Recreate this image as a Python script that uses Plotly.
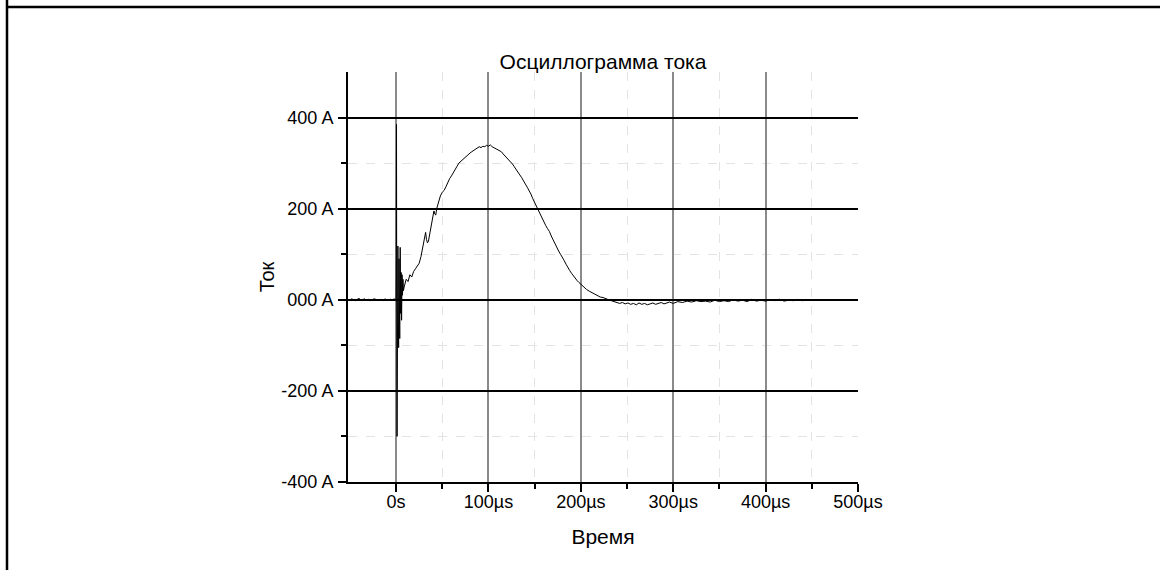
import plotly.graph_objects as go

# time in microseconds
t_base = [-52, -50, -48, -46, -44, -42, -40, -38, -36, -34, -32, -30, -28, -26, -24, -22, -20, -18, -16, -14, -12, -10, -8, -6, -4, -2, 0]
v_base = [1, -1, 2, 0, -2, 1, 3, -1, 0, 2, -1, 1, -2, 0, 2, 1, -1, 0, 1, -2, 2, 0, -1, 1, 0, 2, -1]

t_spike = [0.2, 0.5, 0.8, 1.1, 1.4, 1.7, 2.0, 2.4, 2.8, 3.2, 3.6, 4.0, 4.5, 5.0, 5.5, 6.0, 6.5, 7.0, 7.5, 8.0, 9.0, 10.0]
v_spike = [60, 385, -110, -300, -60, 40, 118, -40, -105, 90, 20, -85, 115, -30, 60, -45, 55, 10, 45, 20, 30, 40]

t_main = [11, 13, 15, 17, 19, 21, 23, 25, 27, 29, 31, 32, 33, 34, 35, 36, 38, 40, 41, 42, 43, 44, 46, 48, 50,
          52, 54, 56, 58, 60, 62, 64, 66, 68, 70, 72, 74, 76, 78, 80, 82, 84, 86, 88, 90, 92, 94, 96, 98, 100,
          102, 104, 106, 108, 110, 112, 114, 116, 118, 120, 122, 124, 126, 128, 130, 132, 134, 136, 138, 140,
          142, 144, 146, 148, 150, 152, 154, 156, 158, 160, 162, 164, 166, 168, 170, 172, 174, 176, 178, 180,
          182, 184, 186, 188, 190, 192, 194, 196, 198, 200, 203, 206, 209, 212, 215, 218, 221, 224, 227, 230,
          233, 236, 239, 242, 245, 248, 251, 254, 257, 260, 263, 266, 269, 272, 275, 278, 281, 284, 287, 290,
          293, 296, 300, 305, 310, 315, 320, 325, 330, 335, 340, 345, 350, 355, 360, 365, 370, 375, 380, 385,
          390, 395, 400, 405, 410, 415, 420, 425, 430, 435, 440, 445, 449]
v_main = [45, 40, 55, 50, 62, 68, 75, 80, 95, 120, 145, 148, 132, 125, 128, 140, 165, 190, 195, 188, 186, 200, 215, 228, 236,
          240, 248, 258, 266, 272, 280, 287, 293, 300, 304, 308, 312, 315, 320, 322, 325, 328, 330, 333, 336, 334, 337, 336, 339, 337,
          340, 336, 334, 332, 330, 327, 325, 320, 316, 310, 306, 303, 298, 292, 285, 280, 274, 268, 262, 254,
          247, 240, 232, 222, 213, 205, 197, 188, 180, 171, 163, 156, 150, 140, 131, 122, 114, 107, 100, 94,
          86, 78, 70, 64, 58, 52, 47, 42, 38, 34, 29, 23, 19, 16, 12, 9, 6, 5, 2, 0,
          -2, -4, -5, -8, -6, -9, -7, -10, -8, -11, -7, -10, -8, -11, -9, -7, -10, -8, -6, -9,
          -7, -5, -8, -4, -6, -3, -5, -2, -4, -3, -5, -1, -4, -2, -4, 0, -3, -1, -4, 1,
          -3, -1, -3, 0, -2, 1, -3, -1, -2, 1, -2, 0, -1]

t_all = t_base + t_spike + t_main
v_all = v_base + v_spike + v_main

x_tickvals = [0, 100, 200, 300, 400, 500]
x_ticktext = ["0s", "100µs", "200µs", "300µs", "400µs", "500µs"]
y_tickvals = [-400, -200, 0, 200, 400]
y_ticktext = ["-400 A", "-200 A", "000 A", "200 A", "400 A"]

FONT = "Liberation Sans, Arial, sans-serif"

fig = go.Figure()
fig.add_trace(go.Scatter(x=t_all, y=v_all, mode="lines",
                         line=dict(color="black", width=1), showlegend=False))

L, R, T, B = 348, 858, 72, 482
W, H = 1160, 570

def px(x):
    return (x - L) / (R - L)

def py(y):
    return (B - y) / (B - T)

fig.update_layout(
    width=W, height=H,
    margin=dict(l=L, r=W - R, t=T, b=H - B),
    paper_bgcolor="white", plot_bgcolor="white",
    font=dict(family=FONT, color="black", size=18),
    title=dict(text="Осциллограмма тока", x=0.5, xref="paper", xanchor="center",
               y=1 - 62 / H, yanchor="middle", font=dict(size=21, family=FONT, color="black")),
    xaxis=dict(range=[-52, 500], tickmode="array", tickvals=x_tickvals, ticktext=x_ticktext,
               showline=True, linecolor="black", linewidth=2, ticks="outside", ticklen=8,
               tickwidth=1.5, tickcolor="black", showgrid=True, gridcolor="#8a8a8a", gridwidth=1.5,
               zeroline=False, tickfont=dict(size=18), ticklabelstandoff=-6,
               title=dict(text="Время", font=dict(size=21), standoff=19),
               minor=dict(tickvals=[50, 150, 250, 350, 450], ticks="outside", ticklen=5,
                          tickcolor="black", tickwidth=1.5, showgrid=True, gridcolor="#e3e3e3",
                          griddash="dash", gridwidth=1)),
    yaxis=dict(range=[-400, 500], tickmode="array", tickvals=y_tickvals, ticktext=y_ticktext,
               showline=True, linecolor="black", linewidth=2, ticks="outside", ticklen=8,
               tickwidth=1.5, tickcolor="black", showgrid=True, gridcolor="black", gridwidth=1.5,
               zeroline=False, tickfont=dict(size=18), ticklabelstandoff=1,
               title=dict(text="Ток", font=dict(size=20), standoff=1),
               minor=dict(tickvals=[-300, -100, 100, 300], ticks="outside", ticklen=5,
                          tickcolor="black", tickwidth=1.5, showgrid=True, gridcolor="#e3e3e3",
                          griddash="dash", gridwidth=1)),
    shapes=[
        dict(type="line", xref="paper", yref="paper", x0=px(7), x1=px(W + 5), y0=py(7), y1=py(7),
             line=dict(color="black", width=2.5)),
        dict(type="line", xref="paper", yref="paper", x0=px(7), x1=px(7), y0=py(-5), y1=py(H + 5),
             line=dict(color="black", width=2.5)),
    ],
)

fig.write_html("out.html", config={"displayModeBar": False},
               post_script="document.body.style.margin='0px';")
